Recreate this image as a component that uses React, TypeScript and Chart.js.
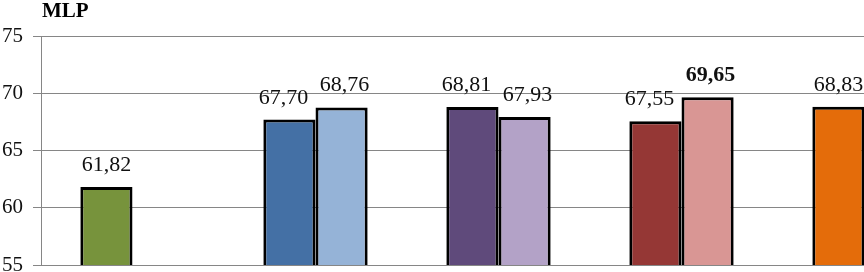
import React, { useEffect, useRef } from "react";
import { Chart, registerables } from "chart.js";

Chart.register(...registerables);

const categories = ["A", "B", "C", "D", "E"];
const firstValues: (number | null)[] = [61.82, 67.7, 68.81, 67.55, 68.83];
const secondValues: (number | null)[] = [null, 68.76, 67.93, 69.65, null];
const firstColors = ["#77933C", "#4470A5", "#5F4A7B", "#953735", "#E46C0A"];
const secondColors = ["#95B3D7", "#95B3D7", "#B3A2C7", "#D99694", "#FAC090"];
const boldSecondIndexes = [3];
const yTicks = [55, 60, 65, 70, 75];
const chartTitle = "MLP";

const SERIF = "'Liberation Serif', 'Times New Roman', serif";

const fmt = (v: number) => v.toFixed(2).replace(".", ",");

const labelPlugin = {
  id: "valueLabels",
  afterDatasetsDraw(chart: any) {
    const ctx = chart.ctx;
    ctx.save();
    ctx.fillStyle = "#111";
    ctx.textAlign = "center";
    ctx.textBaseline = "alphabetic";
    chart.data.datasets.forEach((ds: any, di: number) => {
      const meta = chart.getDatasetMeta(di);
      meta.data.forEach((el: any, i: number) => {
        const v = ds.data[i];
        if (v == null) return;
        const other = chart.data.datasets[1 - di]?.data[i];
        let dx = 0;
        if (other != null) dx = di === 0 ? -6 : 3;
        const bold = di === 1 && boldSecondIndexes.includes(i);
        ctx.font = `${bold ? "bold " : ""}22px ${SERIF}`;
        ctx.fillText(fmt(v), el.x + dx, el.y - 16);
      });
    });
    ctx.restore();
  },
};

const titlePlugin = {
  id: "mlpTitle",
  afterDraw(chart: any) {
    const ctx = chart.ctx;
    ctx.save();
    ctx.fillStyle = "#000";
    ctx.font = `bold 21px ${SERIF}`;
    ctx.textAlign = "left";
    ctx.textBaseline = "alphabetic";
    ctx.fillText(chartTitle, chart.chartArea.left + 1, 17);
    ctx.restore();
  },
};

export default function App() {
  const ref = useRef<HTMLCanvasElement>(null);
  useEffect(() => {
    if (!ref.current) return;
    const chart = new Chart(ref.current, {
      type: "bar",
      data: {
        labels: categories,
        datasets: [
          {
            data: firstValues,
            backgroundColor: firstColors,
            borderColor: "#000",
            borderWidth: 3,
            borderSkipped: false,
            categoryPercentage: 0.57,
            barPercentage: 1,
          },
          {
            data: secondValues,
            backgroundColor: secondColors,
            borderColor: "#000",
            borderWidth: 3,
            borderSkipped: false,
            categoryPercentage: 0.57,
            barPercentage: 1,
          },
        ],
      },
      options: {
        responsive: false,
        animation: false,
        devicePixelRatio: 1,
        layout: { padding: { top: 36, bottom: 35, left: 0, right: 4 } },
        plugins: {
          legend: { display: false },
          tooltip: { enabled: false },
          title: { display: false },
        },
        scales: {
          x: { display: false },
          y: {
            min: 55,
            max: 75,
            afterBuildTicks: (scale: any) => {
              scale.ticks = yTicks.map((v) => ({ value: v }));
            },
            afterFit: (scale: any) => {
              scale.width = 41;
            },
            ticks: {
              padding: 10,
              color: "#111",
              font: { family: SERIF, size: 21 },
              callback: (v: any) => String(v),
            },
            grid: {
              color: "#868686",
              lineWidth: 1,
              tickLength: 8,
              drawTicks: true,
            },
            border: { display: true, color: "#868686", width: 1 },
          },
        },
      },
      plugins: [labelPlugin, titlePlugin],
    } as any);
    return () => chart.destroy();
  }, []);
  return (
    <div
      style={{
        position: "fixed",
        left: 0,
        top: 0,
        width: 864,
        height: 272,
        overflow: "hidden",
        background: "#fff",
      }}
    >
      <canvas ref={ref} width={960} height={300} style={{ width: 960, height: 300, display: "block" }} />
    </div>
  );
}
